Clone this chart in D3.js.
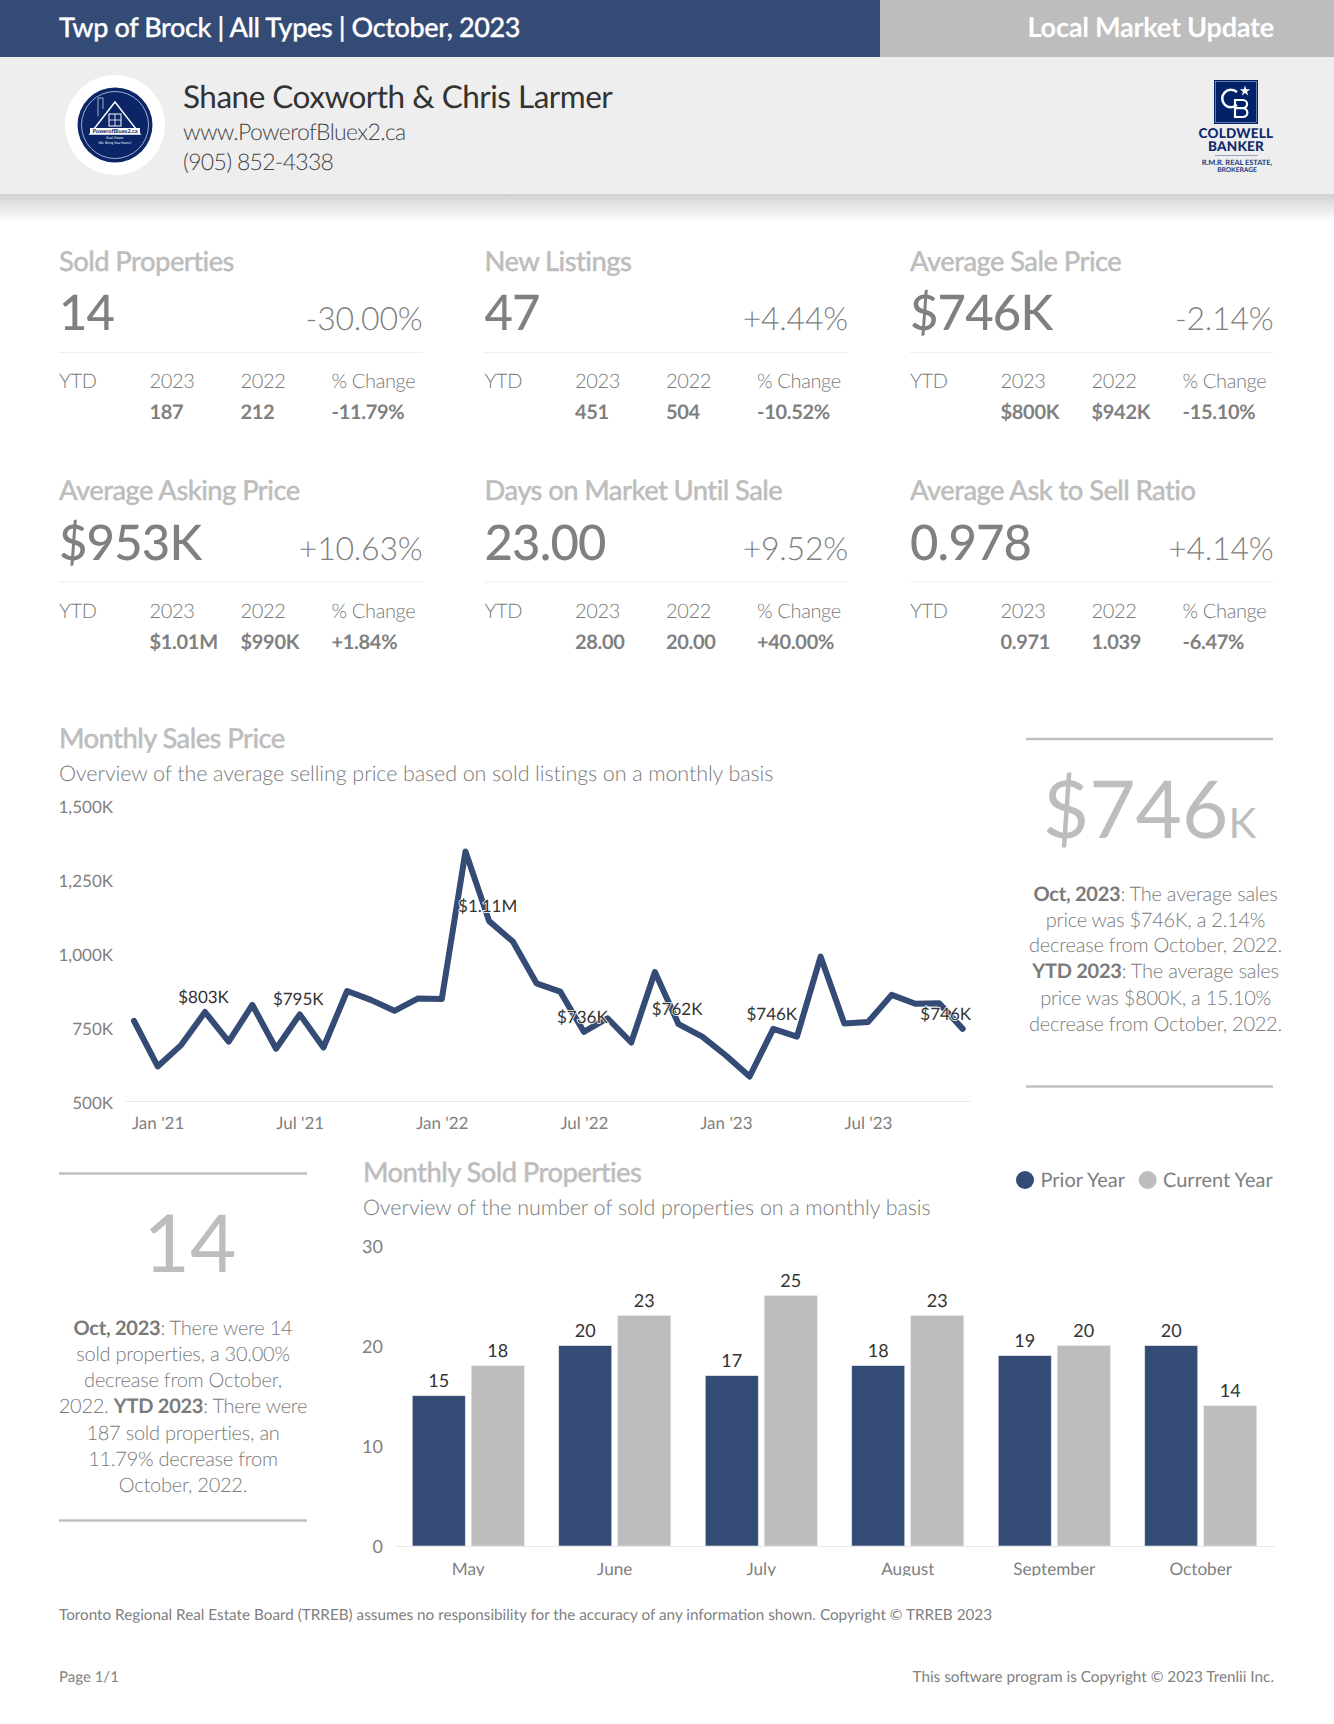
<!DOCTYPE html>
<html><head><meta charset="utf-8">
<script src="https://cdn.jsdelivr.net/npm/d3@7"></script>
<style>
html,body{margin:0;padding:0;background:#fff;overflow:hidden}
svg{display:block}
text{font-family:Lato,sans-serif;text-rendering:geometricPrecision}
</style></head><body><div id="page"></div>
<script>
// ---------- Data ----------
const headerTitle = "Twp of Brock | All Types | October, 2023";
const kpiTitles = ["Sold Properties","New Listings","Average Sale Price","Average Asking Price","Days on Market Until Sale","Average Ask to Sell Ratio"];
const kpiValues = ["14","47","$746K","$953K","23.00","0.978"];
const kpiChanges = ["-30.00%","+4.44%","-2.14%","+10.63%","+9.52%","+4.14%"];
const ytdCurrent = ["187","451","$800K","$1.01M","28.00","0.971"];
const ytdPrior = ["212","504","$942K","$990K","20.00","1.039"];
const ytdChange = ["-11.79%","-10.52%","-15.10%","+1.84%","+40.00%","-6.47%"];

const priceValues = [773,619,692,803,703,827,679,795,683,874,844,807,849,847,1345,1110,1041,900,872,736,782,700,938,762,720,656,585,746,720,990,764,769,861,831,833,746];
const priceTickIndex = [1,7,13,19,25,31];
const priceTickLabels = ["Jan '21","Jul '21","Jan '22","Jul '22","Jan '23","Jul '23"];
const priceYTicks = [500,750,1000,1250,1500];
const priceLabelIndex = [3,7,15,19,23,27,35];
const priceLabelText = ["$803K","$795K","$1.11M","$736K","$762K","$746K","$746K"];

const soldMonths = ["May","June","July","August","September","October"];
const soldPrior = [15,20,17,18,19,20];
const soldCurrent = [18,23,25,23,20,14];
const soldYTicks = [0,10,20,30];
const soldSeries = ["Prior Year","Current Year"];

const navy="#334b75", grey="#bdbdbd", midgrey="#808080", lightText="#7a7a7a", dark="#333333";

// ---------- Page ----------
const svg=d3.select("#page").append("svg").attr("width",1334).attr("height",1724);
const defs=svg.append("defs");
const grad=defs.append("linearGradient").attr("id","shade").attr("x1",0).attr("x2",0).attr("y1",0).attr("y2",1);
grad.append("stop").attr("offset",0).attr("stop-color","#d2d2d2");
grad.append("stop").attr("offset",1).attr("stop-color","#ffffff");

function T(parent,x,y,str,o={}){
  const t=parent.append("text").attr("x",x).attr("y",y).text(str)
    .attr("font-size",o.size||20).attr("font-weight",o.weight||400).attr("fill",o.fill||midgrey)
    .attr("text-anchor",o.anchor||"start");
  if(o.ls!==undefined) t.attr("letter-spacing",o.ls);
  if(o.thick) t.attr("stroke",o.fill||midgrey).attr("stroke-width",o.thick);
  return t;
}
// header
svg.append("rect").attr("width",880).attr("height",57).attr("fill",navy);
svg.append("rect").attr("x",880).attr("width",454).attr("height",57).attr("fill",grey);
svg.append("rect").attr("y",57).attr("width",1334).attr("height",137).attr("fill","#eeeeee");
svg.append("rect").attr("y",194).attr("width",1334).attr("height",28).attr("fill","url(#shade)");
T(svg,59,37,headerTitle,{size:27,fill:"#fff",weight:500,ls:-0.38,thick:0.3});
T(svg,1274,37,"Local Market Update",{size:27.2,fill:"#fff",weight:700,anchor:"end",ls:-0.3});
T(svg,183,108,"Shane Coxworth & Chris Larmer",{size:31.5,fill:dark,ls:-0.5});
T(svg,183,140,"www.PowerofBluex2.ca",{size:23,fill:"#444",weight:300,ls:-0.65});
T(svg,183,170,"(905) 852-4338",{size:23,fill:"#444",weight:300,ls:-0.7});
// agent logo
const lg=svg.append("g").attr("transform","translate(115,125)");
lg.append("circle").attr("r",50).attr("fill","#fff");
lg.append("circle").attr("r",37.5).attr("fill","#0b2566");
lg.append("circle").attr("r",33.5).attr("fill","none").attr("stroke","#c8d0e4").attr("stroke-width",0.8);
lg.append("path").attr("d","M-25,9 L0,-23 L25,9 Z").attr("fill","#0b2566").attr("stroke","#fff").attr("stroke-width",1.4);
lg.append("rect").attr("x",-6).attr("y",-11).attr("width",12).attr("height",12).attr("fill","none").attr("stroke","#fff").attr("stroke-width",1);
lg.append("path").attr("d","M0,-11V1M-6,-5H6").attr("stroke","#fff").attr("stroke-width",.8);
lg.append("path").attr("d","M-17,-9V-27H-12V-16").attr("fill","none").attr("stroke","#c8d0e4").attr("stroke-width",.8);
lg.append("rect").attr("x",-25).attr("y",3).attr("width",50).attr("height",6).attr("fill","#fff");
T(lg,0,8,"PowerofBluex2.ca",{size:5.6,fill:"#0b2566",weight:700,anchor:"middle"});
T(lg,0,13.5,"Real Estate",{size:3.6,fill:"#fff",anchor:"middle"});
T(lg,0,19,"We Bring You Home!",{size:3.6,fill:"#fff",anchor:"middle"});
// brand logo
const cb=svg.append("g");
cb.append("rect").attr("x",1214).attr("y",80).attr("width",44).attr("height",44).attr("fill","#012169");
cb.append("rect").attr("x",1215.5).attr("y",81.5).attr("width",41).attr("height",41).attr("fill","none").attr("stroke","#fff").attr("stroke-width",.4);
cb.append("path").attr("d",d3.arc()({innerRadius:7.5,outerRadius:10,startAngle:2.4,endAngle:Math.PI*2+0.75}))
  .attr("transform","translate(1231,98.5)").attr("fill","#fff");
cb.append("path").attr("d","M1235,100V117M1234,100H1243a4,4 0 0 1 0,8.2H1235M1243,108.2a4.4,4.4 0 0 1 0,8.8H1234")
  .attr("fill","none").attr("stroke","#fff").attr("stroke-width",2.2);
cb.append("path").attr("d",d3.symbol(d3.symbolStar,34)()).attr("transform","translate(1245,91)").attr("fill","#fff");
T(cb,1236,138,"COLDWELL",{size:13.5,fill:"#0f2a6b",weight:900,anchor:"middle",ls:0.25});
T(cb,1236,151,"BANKER",{size:13.5,fill:"#0f2a6b",weight:900,anchor:"middle",ls:0.25});
cb.append("rect").attr("x",1215).attr("y",155).attr("width",43).attr("height",.8).attr("fill","#7f8fb5");
T(cb,1237,165,"R.M.R. REAL ESTATE,",{size:7.4,fill:"#304a85",weight:900,anchor:"middle"});
T(cb,1237,171.5,"BROKERAGE",{size:6.6,fill:"#304a85",weight:900,anchor:"middle"});

// KPI blocks
const colX=[59,484.5,910], colW=363.5, rowDY=229.5;
kpiTitles.forEach((title,i)=>{
  const row=Math.floor(i/3);
  const g=svg.append("g").attr("transform",`translate(${colX[i%3]},${row*rowDY})`);
  T(g,0,271-row,title,{size:27.4,fill:grey,weight:500,ls:-0.58,thick:0.35});
  T(g,0,330,kpiValues[i],{size:49,fill:midgrey,weight:500,ls:-0.8});
  T(g,colW,330,kpiChanges[i],{size:32,fill:midgrey,weight:300,anchor:"end",ls:-0.22});
  g.append("rect").attr("y",352).attr("width",colW).attr("height",1).attr("fill","#eeeeee");
  const xs=[0,90.5,181.5,272.5];
  ["YTD","2023","2022","% Change"].forEach((s,k)=>T(g,xs[k],388,s,{size:20,weight:300,fill:lightText,ls:-0.35}));
  [ytdCurrent[i],ytdPrior[i],ytdChange[i]].forEach((s,k)=>T(g,xs[k+1],419,s,{size:20,weight:700,ls:-0.3}));
});

// ---------- Monthly Sales Price ----------
T(svg,59,748,"Monthly Sales Price",{size:27.4,fill:grey,weight:500,ls:-0.58,thick:0.35});
T(svg,59,781,"Overview of the average selling price based on sold listings on a monthly basis",{size:21.5,fill:lightText,weight:300,ls:-0.1});
const px=d3.scalePoint().domain(d3.range(priceValues.length)).range([134,962.7]);
const py=d3.scaleLinear().domain([500,1500]).range([1101.7,805.7]);
const pAxisY=svg.append("g").attr("transform","translate(113,1.3)")
  .call(d3.axisLeft(py).tickValues(priceYTicks).tickSize(0).tickPadding(0).tickFormat(d=>d3.format(",")(d)+"K"));
pAxisY.select(".domain").remove();
pAxisY.selectAll("text").attr("font-size",17).attr("fill",midgrey).attr("font-family","Lato");
const pAxisX=svg.append("g").attr("transform","translate(0,1101.5)")
  .call(d3.axisBottom(px).tickValues(priceTickIndex).tickSize(0).tickPadding(15).tickFormat(i=>priceTickLabels[priceTickIndex.indexOf(i)]));
pAxisX.select(".domain").attr("stroke","#e8e8e8").attr("stroke-width",1).attr("d","M126,0H970");
pAxisX.selectAll("text").attr("font-size",17).attr("fill",midgrey).attr("font-family","Lato");
svg.append("path").datum(priceValues)
  .attr("d",d3.line().x((d,i)=>px(i)).y(d=>py(d)))
  .attr("fill","none").attr("stroke",navy).attr("stroke-width",6).attr("stroke-linejoin","round").attr("stroke-linecap","round");
svg.append("g").selectAll("text").data(priceLabelIndex).join("text")
  .attr("y",i=>py(priceValues[i])-9)
  .attr("text-anchor","middle").attr("font-size",17).attr("fill",dark)
  .attr("stroke","#fff").attr("stroke-width",1.5).attr("paint-order","stroke")
  .text((i,k)=>priceLabelText[k])
  .attr("x",function(i){ return Math.min(px(i)-1.5, 971-this.getComputedTextLength()/2); });

// side panel
function rule(x1,x2,y){svg.append("rect").attr("x",x1).attr("y",y-1.2).attr("width",x2-x1).attr("height",2.4).attr("fill",grey);}
rule(1026,1273,739); rule(1026,1273,1086.5);
const big=T(svg,1149.5,838,"$746",{size:80,fill:grey,weight:400,anchor:"middle"});
big.append("tspan").attr("font-size",42).text("K");
function para(cx,ys,lines){
  lines.forEach((ln,i)=>{
    const t=svg.append("text").attr("x",cx).attr("y",ys[i]).attr("text-anchor","middle").attr("font-size",20).attr("fill",lightText).attr("letter-spacing",-0.24);
    ln.forEach(seg=>{t.append("tspan").attr("font-weight",seg[1]?700:300).text(seg[0]);});
  });
}
para(1155.5,[900.5,926.5,952,978,1004.5,1030.5],[
 [["Oct, 2023",1],[": The average sales",0]],
 [["price was $746K, a 2.14%",0]],
 [["decrease from October, 2022.",0]],
 [["YTD 2023",1],[": The average sales",0]],
 [["price was $800K, a 15.10%",0]],
 [["decrease from October, 2022.",0]]]);

// left panel
rule(59,307,1173.5); rule(59,307,1520.5);
T(svg,190,1271.5,"14",{size:80,fill:grey,weight:400,anchor:"middle"});
para(183,[1335,1361,1387,1413,1440,1466,1492],[
 [["Oct, 2023",1],[": There were 14",0]],
 [["sold properties, a 30.00%",0]],
 [["decrease from October,",0]],
 [["2022. ",0],["YTD 2023",1],[": There were",0]],
 [["187 sold properties, an",0]],
 [["11.79% decrease from",0]],
 [["October, 2022.",0]]]);

// ---------- Monthly Sold Properties ----------
T(svg,363,1182,"Monthly Sold Properties",{size:27.4,fill:grey,weight:500,ls:-0.58,thick:0.35});
T(svg,363,1215,"Overview of the number of sold properties on a monthly basis",{size:21.5,fill:lightText,weight:300,ls:-0.09});
const legendX=[[1025,1040.5],[1147.7,1163]];
soldSeries.forEach((s,i)=>{
  svg.append("circle").attr("cx",legendX[i][0]).attr("cy",1180).attr("r",9).attr("fill",i?grey:navy);
  T(svg,legendX[i][1],1187,s,{size:20,fill:midgrey});
});
const bx0=d3.scaleBand().domain(soldMonths).range([395,1274]);
const bx1=d3.scaleBand().domain([0,1]).range([0,112]).paddingInner(0.1017);
const groupOff=(bx0.bandwidth()-112)/2;
const by=d3.scaleLinear().domain([0,30]).range([1546,1245.5]);
const bAxisY=svg.append("g").attr("transform","translate(383,1)")
  .call(d3.axisLeft(by).tickValues(soldYTicks).tickSize(0).tickPadding(0));
bAxisY.select(".domain").remove();
bAxisY.selectAll("text").attr("font-size",18).attr("fill",midgrey).attr("font-family","Lato");
const bars=svg.append("g");
[soldPrior,soldCurrent].forEach((vals,s)=>{
  bars.selectAll(null).data(vals).join("rect")
    .attr("x",(d,i)=>bx0(soldMonths[i])+groupOff+bx1(s))
    .attr("y",d=>by(d)).attr("width",bx1.bandwidth()).attr("height",d=>by(0)-by(d))
    .attr("fill",s?grey:navy).attr("stroke","#e3e6ec").attr("stroke-width",.6);
  bars.selectAll(null).data(vals).join("text")
    .attr("x",(d,i)=>bx0(soldMonths[i])+groupOff+bx1(s)+bx1.bandwidth()/2)
    .attr("y",d=>by(d)-9).attr("text-anchor","middle").attr("font-size",18).attr("fill",dark).text(d=>d);
});
defs.append("clipPath").attr("id","soldClipLocal").append("rect").attr("x",340).attr("y",-20).attr("width",960).attr("height",50);
const bAxisX=svg.append("g").attr("transform","translate(0,1546)").attr("clip-path","url(#soldClipLocal)");
bAxisX.call(d3.axisBottom(bx0).tickSize(0).tickPadding(17));
bAxisX.select(".domain").attr("stroke","#e8e8e8").attr("stroke-width",1);
bAxisX.selectAll("text").attr("font-size",17.2).attr("fill",midgrey).attr("font-family","Lato");

// footer
T(svg,59,1620,"Toronto Regional Real Estate Board (TRREB) assumes no responsibility for the accuracy of any information shown. Copyright © TRREB 2023",{size:15.28,fill:midgrey});
T(svg,59,1682,"Page 1/1",{size:15,fill:midgrey});
T(svg,1274,1682,"This software program is Copyright © 2023 Trenlii Inc.",{size:15.3,fill:midgrey,anchor:"end"});
</script></body></html>
